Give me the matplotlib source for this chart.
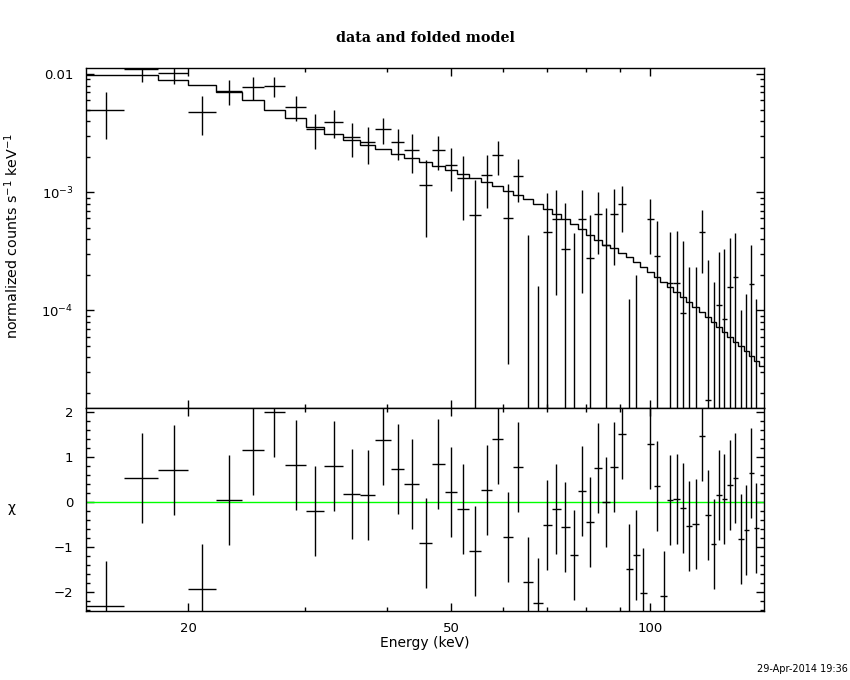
import numpy as np
import matplotlib
matplotlib.use("Agg")
import matplotlib.pyplot as plt
from matplotlib.ticker import FixedLocator, FixedFormatter, NullFormatter, MultipleLocator

# energy bin edges (keV)
edges = [14.0, 16.0, 18.0, 20.0, 22.0, 24.1, 26.0, 28.0, 30.2, 32.1, 34.3, 36.4,
         38.4, 40.5, 42.5, 44.7, 46.8, 48.9, 51.1, 53.3, 55.5, 57.7, 59.9, 62.0,
         64.2, 66.5, 68.9, 71.1, 73.3, 75.7, 77.8, 80.1, 82.4, 84.8, 87.1, 89.5,
         92.0, 94.3, 96.6, 99.0, 101.4, 103.8, 106.1, 108.6, 111.1, 113.5, 116.0,
         118.6, 121.2, 123.7, 126.1, 128.5, 131.0, 133.5, 136.2, 138.7, 141.3,
         143.8, 146.3, 149.2]

# data (counts/s/keV) and 1-sigma errors
rate = [4.95e-3, 1.10e-2, 1.03e-2, 4.78e-3, 7.15e-3, 7.76e-3, 7.96e-3, 5.25e-3,
        3.44e-3, 3.94e-3, 2.93e-3, 2.65e-3, 3.42e-3, 2.67e-3, 2.28e-3, 1.15e-3,
        2.27e-3, 1.69e-3, 1.31e-3, 6.38e-4, 1.39e-3, 2.06e-3, 6.02e-4, 1.37e-3,
        -1.26e-4, -3.5e-4, 4.58e-4, 5.90e-4, 3.31e-4, -1.4e-5, 5.90e-4, 2.77e-4,
        6.51e-4, 3.58e-4, 6.51e-4, 7.91e-4, -1.95e-4, -1.11e-4, -3.7e-4, 5.90e-4,
        2.87e-4, -4.1e-4, 1.69e-4, 1.69e-4, 9.54e-5, -1.6e-5, -1.7e-5, 4.58e-4,
        1.76e-5, -5e-5, 1.11e-4, 8.39e-5, 1.58e-4, 1.92e-4, -1.8e-4, -1.05e-4,
        1.66e-4, -8.6e-5, np.nan]
err = [2.13e-3, 2.5e-3, 2.04e-3, 1.74e-3, 1.69e-3, 1.68e-3, 1.51e-3, 1.245e-3,
       1.12e-3, 1.04e-3, 9.51e-4, 9.25e-4, 8.36e-4, 7.91e-4, 8.27e-4, 7.36e-4,
       7.38e-4, 6.74e-4, 7.28e-4, 6.33e-4, 6.58e-4, 6.70e-4, 5.67e-4, 5.41e-4,
       5.61e-4, 5.11e-4, 5.28e-4, 4.54e-4, 4.80e-4, 4.66e-4, 4.49e-4, 3.65e-4,
       3.49e-4, 3.74e-4, 4.08e-4, 3.29e-4, 3.20e-4, 3.10e-4, 3.0e-4, 2.91e-4,
       2.84e-4, 2.8e-4, 2.94e-4, 3.03e-4, 2.91e-4, 2.5e-4, 2.51e-4, 2.50e-4,
       2.49e-4, 2.25e-4, 2.03e-4, 2.47e-4, 2.55e-4, 2.63e-4, 2.8e-4, 2.42e-4,
       1.915e-4, 2.12e-4, np.nan]

# folded model
model = [9.81e-3, 9.73e-3, 8.90e-3, 8.12e-3, 7.12e-3, 6.02e-3, 4.95e-3, 4.24e-3,
         3.60e-3, 3.12e-3, 2.78e-3, 2.52e-3, 2.31e-3, 2.10e-3, 1.94e-3, 1.80e-3,
         1.67e-3, 1.54e-3, 1.42e-3, 1.31e-3, 1.23e-3, 1.14e-3, 1.03e-3, 9.49e-4,
         8.72e-4, 7.96e-4, 7.22e-4, 6.59e-4, 5.90e-4, 5.36e-4, 4.89e-4, 4.35e-4,
         3.94e-4, 3.58e-4, 3.35e-4, 3.08e-4, 2.81e-4, 2.55e-4, 2.34e-4, 2.12e-4,
         1.93e-4, 1.73e-4, 1.59e-4, 1.42e-4, 1.29e-4, 1.17e-4, 1.06e-4, 9.73e-5,
         8.82e-5, 8.01e-5, 7.26e-5, 6.59e-5, 5.97e-5, 5.42e-5, 4.98e-5, 4.55e-5,
         4.12e-5, 3.74e-5, 3.39e-5]

# residuals (chi), error bars are +-1
chi = [-2.31, 0.53, 0.71, -1.93, 0.04, 1.16, 2.0, 0.82, -0.2, 0.8, 0.18, 0.16,
       1.38, 0.73, 0.4, -0.91, 0.84, 0.22, -0.16, -1.09, 0.27, 1.4, -0.78, 0.78,
       -1.78, -2.24, -0.51, -0.16, -0.56, -1.18, 0.24, -0.44, 0.76, 0.0, 0.78,
       1.51, -1.49, -1.18, -2.02, 1.29, 0.36, -2.09, 0.04, 0.08, -0.13, -0.53,
       -0.49, 1.47, -0.29, -0.93, 0.17, 0.07, 0.38, 0.53, -0.82, -0.62, 0.64,
       -0.58, np.nan]

e = np.array(edges)
lo, hi = e[:-1], e[1:]
mid = (lo + hi) / 2
r = np.array(rate)
s = np.array(err)
c = np.array(chi)

fig = plt.figure(figsize=(8.5, 6.8), dpi=100)
ax1 = fig.add_axes([0.1012, 0.4004, 0.7982, 0.4992])
ax2 = fig.add_axes([0.1012, 0.1019, 0.7982, 0.2985], sharex=ax1)

lw = 1.0
ax1.set_xscale("log")
ax1.set_yscale("log")
ax1.set_xlim(14.0, 149.2)
ax1.set_ylim(1.5e-5, 0.0112)

# data crosses (only the parts above zero can show on a log axis)
ok = np.isfinite(r) & (r > 0)
ax1.hlines(r[ok], lo[ok], hi[ok], color="k", lw=lw)
top = r + s
up = np.isfinite(top) & (top > 0)
bot = np.clip(r - s, 1e-9, None)
ax1.vlines(mid[up], bot[up], top[up], color="k", lw=lw)
ax1.stairs(model, e, baseline=None, color="k", lw=lw)

ok2 = np.isfinite(c)
ax2.axhline(0, color="#00ff00", lw=lw)
ax2.hlines(c[ok2], lo[ok2], hi[ok2], color="k", lw=lw)
ax2.vlines(mid[ok2], c[ok2] - 1, c[ok2] + 1, color="k", lw=lw)
ax2.set_ylim(-2.41, 2.1)

for ax in (ax1, ax2):
    ax.tick_params(which="both", direction="in", top=True, right=True,
                   width=1, labelsize=9.5, colors="k")
    ax.tick_params(which="major", length=5.5, pad=9)
    ax.tick_params(which="minor", length=2.8)
    ax.tick_params(axis="x", which="major", pad=8)
    for sp in ax.spines.values():
        sp.set_linewidth(1)

ax2.xaxis.set_major_locator(FixedLocator([20, 50, 100]))
ax2.xaxis.set_major_formatter(FixedFormatter(["20", "50", "100"]))
ax2.xaxis.set_minor_locator(FixedLocator([30, 40, 60, 70, 80, 90]))
ax2.xaxis.set_minor_formatter(NullFormatter())
plt.setp(ax1.get_xticklabels(), visible=False)

ax1.yaxis.set_major_locator(FixedLocator([1e-4, 1e-3, 1e-2]))
ax1.yaxis.set_major_formatter(FixedFormatter(["$10^{-4}$", "$10^{-3}$", "0.01"]))
ax1.yaxis.set_minor_locator(FixedLocator(
    [m * 10.0 ** k for k in (-5, -4, -3) for m in range(2, 10)]))
ax1.yaxis.set_minor_formatter(NullFormatter())

ax2.yaxis.set_major_locator(MultipleLocator(1))
ax2.yaxis.set_minor_locator(MultipleLocator(0.2))
ax2.set_yticks([-2, -1, 0, 1, 2])
ax2.set_yticklabels(["\u22122", "\u22121", "0", "1", "2"])

fig.text(0.5, 1 - 38 / 680, "data and folded model", ha="center", va="center",
         fontsize=10.3, family="DejaVu Serif", weight="bold")
fig.text(12 / 850, 1 - 236 / 680, "normalized counts s$^{-1}$ keV$^{-1}$",
         rotation=90, ha="center", va="center", fontsize=10.3)
fig.text(12 / 850, 1 - 508 / 680, "\u03c7", ha="center", va="center", fontsize=10)
fig.text(0.5, 1 - 643 / 680, "Energy (keV)", ha="center", va="center", fontsize=10)
fig.text(848 / 850, 1 - 669 / 680, "29-Apr-2014 19:36", ha="right",
         va="center", fontsize=7)

fig.savefig("out.png", dpi=100)
